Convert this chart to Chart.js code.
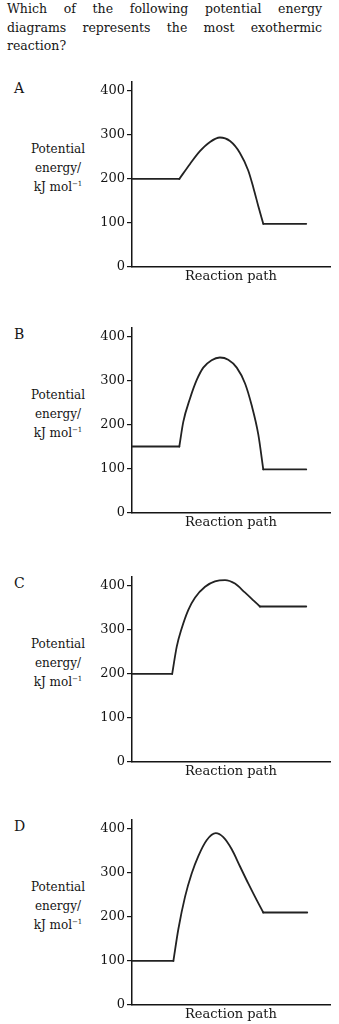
<!DOCTYPE html>
<html>
<head>
<meta charset="utf-8">
<script src="https://cdn.jsdelivr.net/npm/chart.js@4.4.1/dist/chart.umd.min.js"></script>
<style>
  html, body { margin: 0; padding: 0; background: #fff; overflow: hidden; }
  body { width: 339px; height: 1024px; position: relative; font-family: "DejaVu Serif", serif; color: #151515; }
  .q { position: absolute; left: 7px; top: 0; width: 315px; font-size: 12.5px; line-height: 18.7px; }
  .q div { text-align: justify; text-align-last: justify; }
  .q div.last { text-align-last: left; }
  .letter { position: absolute; left: 14px; font-size: 14px; line-height: 14px; }
  .ylab { position: absolute; left: 18px; width: 80px; text-align: center; font-size: 12px; line-height: 19px; }
  .ylab sup { font-size: 7px; vertical-align: 5px; line-height: 0; }
  canvas { position: absolute; left: 82px; }
</style>
</head>
<body>
<div class="q">
  <div>Which of the following potential energy</div>
  <div>diagrams represents the most exothermic</div>
  <div class="last">reaction?</div>
</div>
<div id="panels"></div>
<script>
// panel letters and where each panel's axis starts (px from top)
const panelNames = ['A', 'B', 'C', 'D'];
const panelTops = [82, 328, 577, 820];

// reaction path positions (0-100) and energies (kJ/mol)
const pathA_x = [0, 23.9, 29.3, 34.3, 39.4, 44.4, 49.5, 54.5, 58.7, 61.3, 63.8, 66.3, 88];
const pathA_y = [200, 200, 234, 263, 284, 294, 286, 259, 219, 180, 138, 98, 98];

const pathB_x = [0, 23.9, 25.9, 29.3, 32.7, 36, 40.2, 44.4, 48.6, 52.9, 57.1, 60.4, 63.8, 66.3, 88];
const pathB_y = [151, 151, 207, 260, 302, 330, 347, 353, 348, 330, 294, 245, 178, 99, 99];

const pathC_x = [0, 20.3, 22.6, 25, 28.4, 31.8, 36.9, 41.9, 47, 52, 57, 61.3, 64.6, 88];
const pathC_y = [200, 200, 262, 302, 345, 373, 398, 410, 413, 405, 385, 367, 353, 353];

const pathD_x = [0, 20.9, 23.4, 26.8, 30.1, 33.5, 37.7, 42.3, 46.1, 50.3, 54.5, 58.7, 63, 66.3, 88.5];
const pathD_y = [100, 100, 172, 246, 298, 338, 374, 390, 381, 354, 315, 276, 238, 210, 210];

const yTicks = [0, 100, 200, 300, 400];
const yMax = 420;

const paths = [[pathA_x, pathA_y], [pathB_x, pathB_y], [pathC_x, pathC_y], [pathD_x, pathD_y]];

const ink = '#151515';
const tickFont = { family: 'DejaVu Serif', size: 13 };

// flat start, curved hump, flat end -> three datasets so the corners stay sharp
function makeDatasets(xs, ys) {
  const pts = xs.map((x, i) => ({ x: x, y: ys[i] }));
  const n = pts.length;
  const base = { borderColor: '#222', borderWidth: 1.8, pointRadius: 0, borderCapStyle: 'round', borderJoinStyle: 'round', fill: false };
  return [
    Object.assign({}, base, { data: pts.slice(0, 2), tension: 0 }),
    Object.assign({}, base, { data: pts.slice(1, n - 1), cubicInterpolationMode: 'monotone' }),
    Object.assign({}, base, { data: pts.slice(n - 2), tension: 0 })
  ];
}

const holder = document.getElementById('panels');

panelNames.forEach((name, i) => {
  const top = panelTops[i];

  const letter = document.createElement('div');
  letter.className = 'letter';
  letter.style.top = (top - 1) + 'px';
  letter.textContent = name;
  holder.appendChild(letter);

  const ylab = document.createElement('div');
  ylab.className = 'ylab';
  ylab.style.top = (top + 58) + 'px';
  ylab.innerHTML = 'Potential<br>energy/<br>kJ mol<sup>−1</sup>';
  holder.appendChild(ylab);

  const canvas = document.createElement('canvas');
  canvas.width = 257;
  canvas.height = 220;
  canvas.style.top = (top - 12) + 'px';
  holder.appendChild(canvas);

  new Chart(canvas.getContext('2d'), {
    type: 'line',
    data: { datasets: makeDatasets(paths[i][0], paths[i][1]) },
    options: {
      responsive: false,
      animation: false,
      layout: { padding: { top: 12, right: 9, bottom: 3, left: 0 } },
      plugins: { legend: { display: false }, tooltip: { enabled: false } },
      scales: {
        x: {
          type: 'linear',
          min: 0,
          max: 100,
          grid: { display: false },
          ticks: { display: false },
          border: { display: true, color: ink, width: 1.5 },
          title: { display: true, text: 'Reaction path', color: ink, font: tickFont, padding: { top: 0, bottom: 3 } },
          afterFit: (s) => { s.height = 20; }
        },
        y: {
          min: 0,
          max: yMax,
          afterFit: (s) => { s.width = 50; },
          afterBuildTicks: (s) => { s.ticks = yTicks.map(v => ({ value: v })); },
          ticks: { padding: 2, color: ink, font: tickFont },
          grid: { drawOnChartArea: false, drawTicks: true, tickLength: 5, color: ink, lineWidth: 1.2 },
          border: { display: true, color: ink, width: 1.5 }
        }
      }
    }
  });
});
</script>
</body>
</html>
